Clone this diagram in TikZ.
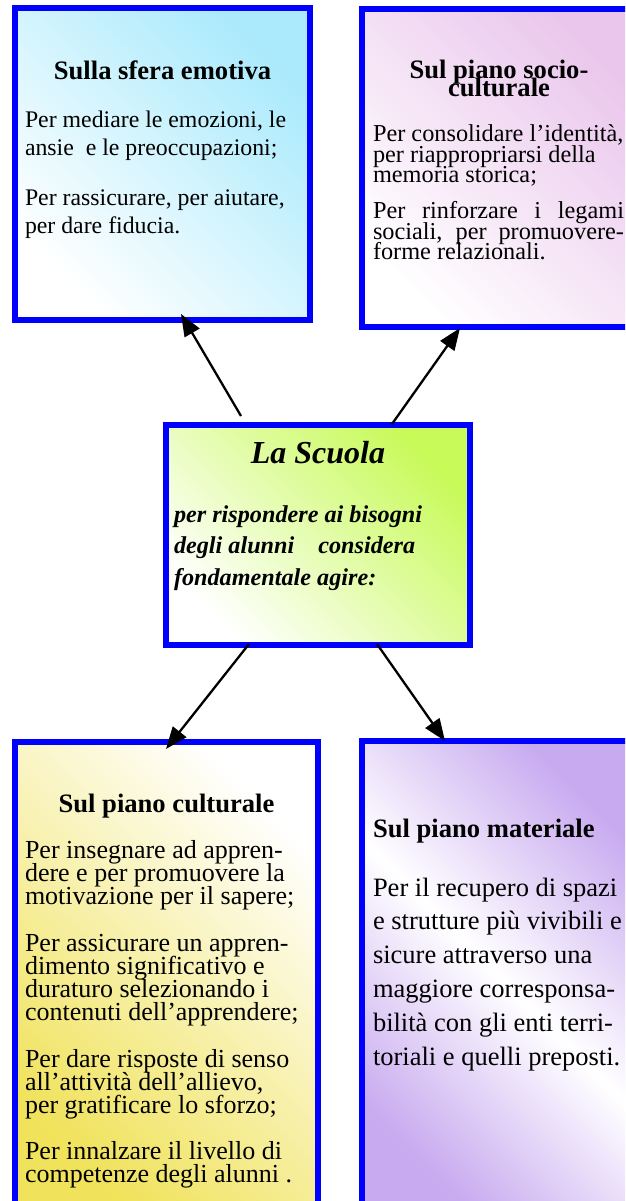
\documentclass[tikz,border=0pt]{standalone}
\usepackage{fontspec}
\setmainfont{Liberation Serif}
\usetikzlibrary{arrows.meta,calc}
\definecolor{boxblue}{RGB}{0,0,255}
\definecolor{cyanA}{RGB}{170,234,252}
\definecolor{pinkA}{RGB}{234,198,236}
\definecolor{greenA}{RGB}{200,250,90}
\definecolor{yellowA}{RGB}{240,226,90}
\definecolor{purpleA}{RGB}{200,170,240}
\lineskiplimit=-100pt
\begin{document}
\begin{tikzpicture}[x=1pt,y=1pt,
  box/.style={draw=boxblue, line width=6pt, rectangle, inner sep=0pt, outer sep=0pt},
  txt/.style={inner sep=0pt, outer sep=0pt, anchor=base west},
  ctxt/.style={inner sep=0pt, outer sep=0pt, anchor=base},
  head/.style={font=\fontsize{26.6}{30}\selectfont\bfseries},
  arr/.style={line width=2.3pt, -{Triangle[length=22pt,width=17pt]}}
]
\clip (0,0) rectangle (625,-1201);
\fill[white] (0,0) rectangle (625,-1201);

% boxes
\node[box, minimum width=295pt, minimum height=312pt,
  top color=cyanA, bottom color=white, shading angle=-45] (emo) at (162.5,-164) {};
\node[box, minimum width=278pt, minimum height=318pt,
  top color=pinkA, bottom color=white, shading angle=-45] (soc) at (501,-168) {};
\node[box, minimum width=304pt, minimum height=220pt,
  top color=greenA, bottom color=white, shading angle=-45] (scuola) at (318,-535) {};
\node[box, minimum width=303pt, minimum height=473pt,
  top color=white, bottom color=yellowA, shading angle=-45] (cult) at (166.5,-978.5) {};
\node[box, minimum width=278pt, minimum height=474pt,
  top color=purpleA, bottom color=purpleA, middle color=white, shading angle=-45] (mat) at (501,-978) {};

% top-left text
\node[ctxt, head] (emoh) at (162.5,-80) {Sulla sfera emotiva};
\node[txt] (emob) at (25,-128) {\parbox[t]{285pt}{\fontsize{23.8}{28}\selectfont\lineskiplimit=-100pt
  Per mediare le emozioni, le\\
  ansie\ \ e le preoccupazioni;\\[22pt]
  Per rassicurare, per aiutare,\\
  per dare fiducia.}};

% top-right text
\node[ctxt] (soch) at (499,-79) {\parbox[t]{260pt}{\centering\fontsize{26.6}{18}\selectfont\bfseries\lineskiplimit=-100pt
  Sul piano socio-\\culturale}};
\node[txt] (socb) at (373,-142) {\parbox[t]{251pt}{\fontsize{24.3}{20.5}\selectfont\lineskiplimit=-100pt
  Per consolidare l'identità,\\
  per riappropriarsi della\\
  memoria storica;\\[15.5pt]
  \makebox[251pt][s]{Per rinforzare i legami}\\
  \makebox[251pt][s]{sociali, per promuovere-}\\
  forme relazionali.}};

% centre text
\node[ctxt, font=\fontsize{32}{34}\selectfont\bfseries\itshape] (scuolah) at (318,-463) {La Scuola};
\node[txt] (scuolab) at (174,-522) {\parbox[t]{290pt}{\fontsize{24.2}{31.5}\selectfont\bfseries\itshape\lineskiplimit=-100pt
  per rispondere ai bisogni\\
  degli alunni\hspace{24pt}considera\\
  fondamentale agire:}};

% bottom-left text
\node[ctxt, head] (culth) at (166.5,-812) {Sul piano culturale};
\node[txt] (cultb) at (25,-858) {\parbox[t]{290pt}{\fontsize{26}{23}\selectfont\lineskiplimit=-100pt
  Per insegnare ad appren-\\
  dere e per promuovere la\\
  motivazione per il sapere;\\[24.5pt]
  Per assicurare un appren-\\
  dimento significativo e\\
  duraturo selezionando i\\
  contenuti dell'apprendere;\\[24pt]
  Per dare risposte di senso\\
  all'attività dell'allievo,\\
  per gratificare lo sforzo;\\[23pt]
  Per innalzare il livello di\\
  competenze degli alunni .}};

% bottom-right text
\node[txt, head] (math) at (373,-837) {Sul piano materiale};
\node[txt] (matb) at (373,-896) {\parbox[t]{260pt}{\fontsize{26.5}{33.8}\selectfont\lineskiplimit=-100pt
  Per il recupero di spazi\\
  e strutture più vivibili e\\
  sicure attraverso una\\
  maggiore corresponsa-\\
  bilità con gli enti terri-\\
  toriali e quelli preposti.}};

% arrows
\draw[arr] ($(scuola.north west)+(75,9)$) -- ($(emo.south west)+(166,6)$);
\draw[arr] ($(scuola.north west)+(226,1)$) -- ($(soc.south west)+(98,-1)$);
\draw[arr] ($(scuola.south west)+(83,1)$) -- ($(cult.north west)+(151,-7)$);
\draw[arr] ($(scuola.south west)+(211,1)$) -- ($(mat.north west)+(83,0)$);
\end{tikzpicture}
\end{document}
